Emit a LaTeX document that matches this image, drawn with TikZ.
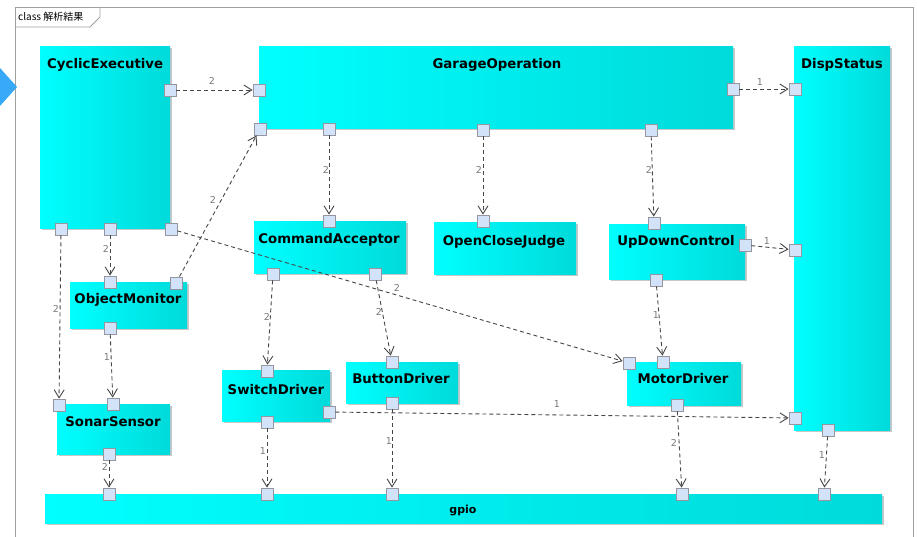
\documentclass[tikz,border=0pt]{standalone}
\usepackage{fontspec}
\setmainfont{DejaVu Sans}
\newfontfamily\cjkfont{Noto Sans CJK JP}
\usetikzlibrary{arrows.meta,shadows}
\definecolor{cyanL}{RGB}{0,255,255}
\definecolor{cyanR}{RGB}{0,218,218}
\definecolor{portfill}{RGB}{210,226,248}
\definecolor{portdraw}{RGB}{150,150,160}
\definecolor{lineC}{RGB}{70,70,70}
\definecolor{lblC}{RGB}{120,120,120}
\definecolor{tabblue}{RGB}{56,168,248}
\definecolor{frameC}{RGB}{160,160,160}
\begin{document}
\begin{tikzpicture}[x=1pt,y=-1pt,
  cls/.style={rectangle, inner sep=0pt, left color=cyanL, right color=cyanR, draw=none,
    drop shadow={shadow xshift=1.5pt, shadow yshift=-1.5pt, opacity=0.22, fill=black}},
  clsname/.style={inner sep=0pt, font=\bfseries\fontsize{13.3}{16}\selectfont, text height=9.5pt, text depth=2.5pt},
  port/.style={rectangle, inner sep=0pt, minimum size=12pt, fill=portfill, draw=portdraw, line width=0.8pt},
  dep/.style={draw=lineC, line width=0.9pt, dash pattern=on 4pt off 3pt, -{Straight Barb[length=8pt,width=10pt,line width=0.9pt]}},
  lbl/.style={inner sep=0pt, text=lblC, font=\fontsize{9.5}{10}\selectfont}]
\useasboundingbox (0,0) rectangle (917,537);
% frame and tab
\draw[frameC, line width=0.9pt] (15,545) -- (15,7) -- (913,7) -- (913,545);
\draw[frameC, line width=0.9pt] (15,27) -- (90,27) -- (100,17) -- (100,7);
\node[inner sep=0pt, anchor=west, font=\cjkfont\fontsize{10}{12}\selectfont] (tab) at (18,17) {class 解析結果};
\fill[tabblue] (0,68) -- (17,87) -- (0,106) -- cycle;
% classes
\node[cls, minimum width=130pt, minimum height=182pt, anchor=north west] (CE) at (40,46) {};
\node[cls, minimum width=474pt, minimum height=82pt, anchor=north west] (GO) at (259,46) {};
\node[cls, minimum width=96pt, minimum height=384pt, anchor=north west] (DS) at (794,46) {};
\node[cls, minimum width=152pt, minimum height=52pt, anchor=north west] (CA) at (254,221) {};
\node[cls, minimum width=142pt, minimum height=52pt, anchor=north west] (OCJ) at (434,222) {};
\node[cls, minimum width=136pt, minimum height=55pt, anchor=north west] (UDC) at (609,224) {};
\node[cls, minimum width=117pt, minimum height=46pt, anchor=north west] (OM) at (70,282) {};
\node[cls, minimum width=108pt, minimum height=51pt, anchor=north west] (SW) at (222,370) {};
\node[cls, minimum width=112pt, minimum height=41pt, anchor=north west] (BD) at (346,362) {};
\node[cls, minimum width=114pt, minimum height=43pt, anchor=north west] (MD) at (627,362) {};
\node[cls, minimum width=113pt, minimum height=50pt, anchor=north west] (SS) at (57,404) {};
\node[cls, minimum width=837pt, minimum height=29pt, anchor=north west] (GP) at (45,494) {};
% class names
\node[clsname, anchor=west] (tCE) at (47,65) {CyclicExecutive};
\node[clsname] (tGO) at (497,65) {GarageOperation};
\node[clsname] (tDS) at (842,65) {DispStatus};
\node[clsname] (tCA) at (329,240) {CommandAcceptor};
\node[clsname] (tOCJ) at (504,242) {OpenCloseJudge};
\node[clsname] (tUDC) at (676,242) {UpDownControl};
\node[clsname] (tOM) at (128,300) {ObjectMonitor};
\node[clsname] (tSW) at (276,391) {SwitchDriver};
\node[clsname] (tBD) at (401,380) {ButtonDriver};
\node[clsname] (tMD) at (683,380) {MotorDriver};
\node[clsname] (tSS) at (113,423) {SonarSensor};
\node[clsname, font=\bfseries\fontsize{11}{13}\selectfont] (tGP) at (463,510) {gpio};
% ports
\node[port] (pCEr) at (170,90) {};
\node[port] (pCEbl) at (61,229) {};
\node[port] (pCEbm) at (110,229) {};
\node[port] (pCEbr) at (171,229) {};
\node[port] (pGOl) at (259,90) {};
\node[port] (pGOr) at (733,89) {};
\node[port] (pGOb1) at (260,129) {};
\node[port] (pGOb2) at (329,129) {};
\node[port] (pGOb3) at (483,130) {};
\node[port] (pGOb4) at (651,130) {};
\node[port] (pDSl1) at (795,89) {};
\node[port] (pDSl2) at (795,250) {};
\node[port] (pDSl3) at (795,418) {};
\node[port] (pDSb) at (828,430) {};
\node[port] (pCAt) at (329,221) {};
\node[port] (pCAbl) at (273,274) {};
\node[port] (pCAbr) at (375,274) {};
\node[port] (pOCJt) at (483,221) {};
\node[port] (pUDCt) at (654,223) {};
\node[port] (pUDCr) at (745,245) {};
\node[port] (pUDCb) at (656,280) {};
\node[port] (pOMt) at (110,282) {};
\node[port] (pOMtr) at (176,283) {};
\node[port] (pOMb) at (110,328) {};
\node[port] (pSWt) at (267,371) {};
\node[port] (pSWr) at (329,412) {};
\node[port] (pSWb) at (267,422) {};
\node[port] (pBDt) at (392,362) {};
\node[port] (pBDb) at (392,403) {};
\node[port] (pMDl) at (629,363) {};
\node[port] (pMDt) at (663,362) {};
\node[port] (pMDb) at (677,405) {};
\node[port] (pSSt1) at (59,405) {};
\node[port] (pSSt2) at (113,404) {};
\node[port] (pSSb) at (109,454) {};
\node[port] (pGP1) at (109,494) {};
\node[port] (pGP2) at (267,494) {};
\node[port] (pGP3) at (392,494) {};
\node[port] (pGP4) at (682,494) {};
\node[port] (pGP5) at (824,494) {};
% dependencies
\draw[dep] (pCEr) -- (pGOl);
\draw[dep] (pGOr) -- (pDSl1);
\draw[dep] (pOMtr) -- (pGOb1);
\draw[dep] (pGOb2) -- (pCAt);
\draw[dep] (pGOb3) -- (pOCJt);
\draw[dep] (pGOb4) -- (pUDCt);
\draw[dep] (pCEbm) -- (pOMt);
\draw[dep] (pCEbl) -- (pSSt1);
\draw[dep] (pCEbr) -- (pMDl);
\draw[dep] (pUDCr) -- (pDSl2);
\draw[dep] (pCAbl) -- (pSWt);
\draw[dep] (pCAbr) -- (pBDt);
\draw[dep] (pOMb) -- (pSSt2);
\draw[dep] (pUDCb) -- (pMDt);
\draw[dep] (pSWr) -- (pDSl3);
\draw[dep] (pSWb) -- (pGP2);
\draw[dep] (pBDb) -- (pGP3);
\draw[dep] (pMDb) -- (pGP4);
\draw[dep] (pDSb) -- (pGP5);
\draw[dep] (pSSb) -- (pGP1);
% multiplicity labels
\node[lbl] (m1) at (212,81) {2};
\node[lbl] (m2) at (760,82) {1};
\node[lbl] (m3) at (213,200) {2};
\node[lbl] (m4) at (326,170) {2};
\node[lbl] (m5) at (479,170) {2};
\node[lbl] (m6) at (649,170) {2};
\node[lbl] (m7) at (106,249) {2};
\node[lbl] (m8) at (56,309) {2};
\node[lbl] (m9) at (397,288) {2};
\node[lbl] (m10) at (767,241) {1};
\node[lbl] (m11) at (267,317) {2};
\node[lbl] (m12) at (379,312) {2};
\node[lbl] (m13) at (107,357) {1};
\node[lbl] (m14) at (656,315) {1};
\node[lbl] (m15) at (557,404) {1};
\node[lbl] (m16) at (263,451) {1};
\node[lbl] (m17) at (389,441) {1};
\node[lbl] (m18) at (674,443) {2};
\node[lbl] (m19) at (822,455) {1};
\node[lbl] (m20) at (105,467) {2};
\end{tikzpicture}
\end{document}
